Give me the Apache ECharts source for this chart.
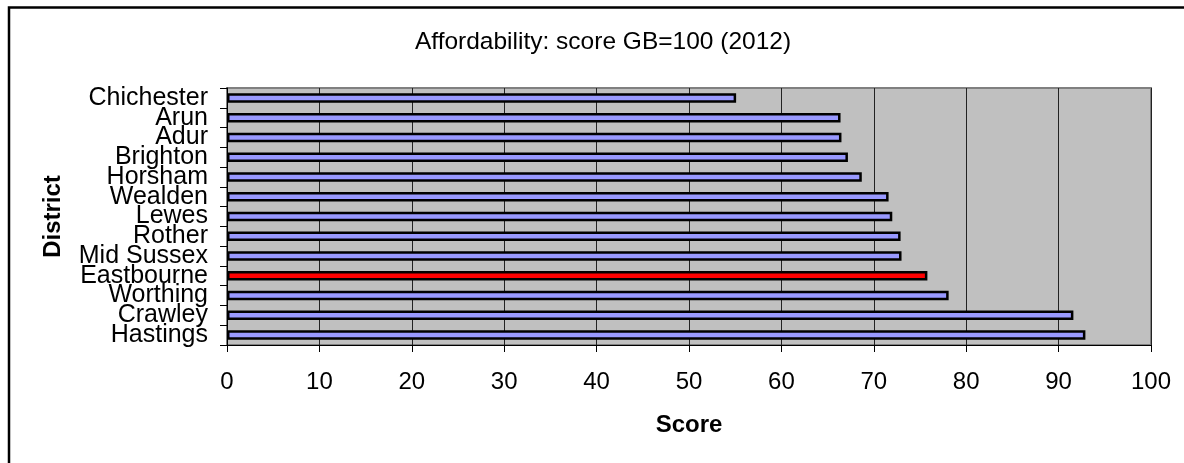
<!DOCTYPE html>
<html>
<head>
<meta charset="utf-8">
<title>Affordability: score GB=100 (2012)</title>
<script src="https://cdn.jsdelivr.net/npm/echarts@6/dist/echarts.min.js"></script>
<style>
  html, body { margin: 0; padding: 0; background: #ffffff; }
  #chart { width: 1184px; height: 463px; }
</style>
</head>
<body>
<div id="chart"></div>
<script>
// Districts, listed top to bottom as drawn
const districts = ['Chichester', 'Arun', 'Adur', 'Brighton', 'Horsham', 'Wealden', 'Lewes',
  'Rother', 'Mid Sussex', 'Eastbourne', 'Worthing', 'Crawley', 'Hastings'];
// Affordability score, GB = 100
const scores = [55.1, 66.4, 66.5, 67.2, 68.7, 71.6, 72.0, 72.9, 73.0, 75.8, 78.1, 91.6, 92.9];
// District picked out in red
const highlighted = ['Eastbourne'];
// Score axis ticks
const scoreTicks = [0, 10, 20, 30, 40, 50, 60, 70, 80, 90, 100];

const FONT = '"Liberation Sans", Arial, Helvetica, sans-serif';

const barData = districts.map((name, i) => ({
  value: scores[i],
  itemStyle: { color: highlighted.includes(name) ? '#FF0000' : '#9999FF' }
}));

const chart = echarts.init(document.getElementById('chart'), null, { renderer: 'canvas' });
chart.setOption({
  backgroundColor: '#ffffff',
  animation: false,
  textStyle: { fontFamily: FONT },
  title: {
    text: 'Affordability: score GB=100 (2012)',
    left: 598,
    top: 25,
    textAlign: 'center',
    textStyle: { fontFamily: FONT, fontSize: 24.5, fontWeight: 'normal', color: '#000', lineHeight: 25 }
  },
  graphic: [{
    type: 'rect',
    silent: true,
    shape: { x: 9, y: 7.5, width: 1200, height: 480 },
    style: { fill: 'none', stroke: '#000', lineWidth: 2.5 }
  }],
  grid: {
    left: 227, right: 33, top: 88, bottom: 118,
    show: true,
    backgroundColor: '#C0C0C0',
    borderColor: '#808080',
    borderWidth: 2
  },
  xAxis: {
    type: 'value',
    min: scoreTicks[0],
    max: scoreTicks[scoreTicks.length - 1],
    interval: scoreTicks[1] - scoreTicks[0],
    name: 'Score',
    nameLocation: 'middle',
    nameGap: 68,
    nameTextStyle: { fontFamily: FONT, fontSize: 24, fontWeight: 'bold', color: '#000', lineHeight: 24 },
    axisLine: { show: true, lineStyle: { color: '#000', width: 1 } },
    axisTick: { show: true, length: 7, lineStyle: { color: '#000' } },
    axisLabel: { fontFamily: FONT, fontSize: 24, color: '#000', margin: 25, lineHeight: 24 },
    splitLine: { show: true, lineStyle: { color: '#222', width: 1 } }
  },
  yAxis: {
    type: 'category',
    data: districts,
    inverse: true,
    name: 'District',
    nameLocation: 'middle',
    nameGap: 162,
    nameRotate: 90,
    nameTextStyle: { fontFamily: FONT, fontSize: 24, fontWeight: 'bold', color: '#000', lineHeight: 24 },
    axisLine: { show: true, lineStyle: { color: '#000', width: 1 } },
    axisTick: { show: true, length: 7, lineStyle: { color: '#000' } },
    axisLabel: { fontFamily: FONT, fontSize: 25, color: '#000', margin: 19, lineHeight: 24, interval: 0 },
    splitLine: { show: false }
  },
  series: [{
    type: 'bar',
    data: barData,
    barWidth: 9.5,
    itemStyle: { borderColor: '#000', borderWidth: 2.5 }
  }]
});
</script>
</body>
</html>
